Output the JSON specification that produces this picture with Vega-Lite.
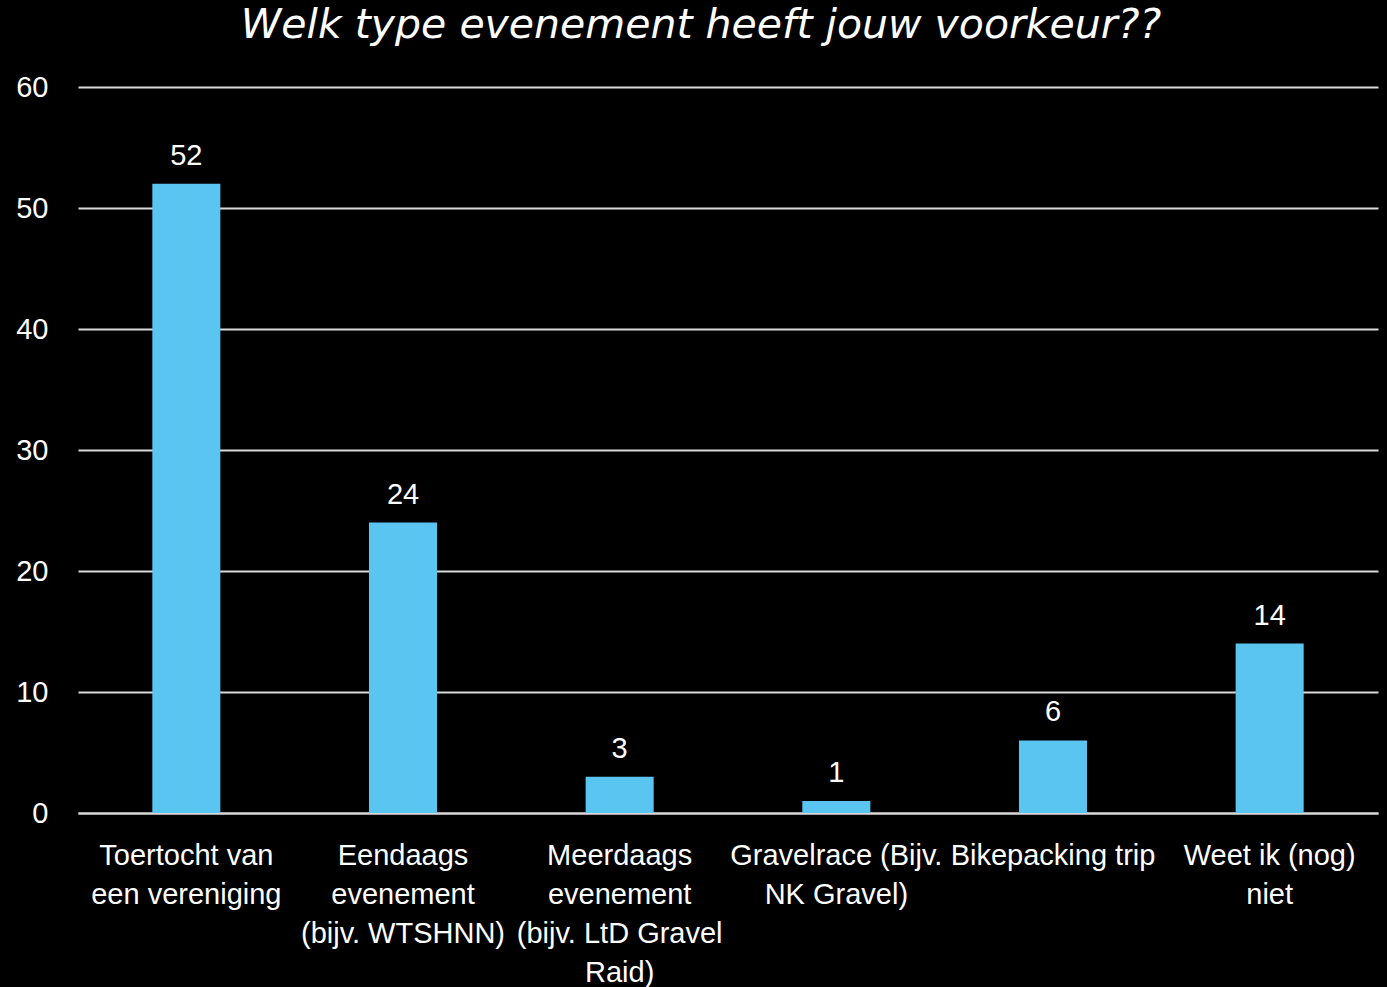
{
  "$schema": "https://vega.github.io/schema/vega-lite/v6.json",
  "width": 1300,
  "height": 726,
  "autosize": {"type": "none"},
  "padding": {"left": 78, "top": 87, "right": 9, "bottom": 174},
  "background": "#000000",
  "title": {
    "text": "Welk type evenement heeft jouw voorkeur??",
    "font": "DejaVu Sans",
    "fontStyle": "italic",
    "fontWeight": "normal",
    "fontSize": 41,
    "color": "#FFFFFF",
    "anchor": "middle",
    "dx": -27,
    "offset": 26
  },
  "data": {
    "values": [
      {"cat": "Toertocht van|een vereniging", "n": 52},
      {"cat": "Eendaags|evenement|(bijv. WTSHNN)", "n": 24},
      {"cat": "Meerdaags|evenement|(bijv. LtD Gravel|Raid)", "n": 3},
      {"cat": "Gravelrace (Bijv.|NK Gravel)", "n": 1},
      {"cat": "Bikepacking trip", "n": 6},
      {"cat": "Weet ik (nog)|niet", "n": 14}
    ]
  },
  "config": {
    "view": {"stroke": null},
    "font": "Liberation Sans"
  },
  "encoding": {
    "x": {
      "field": "cat",
      "type": "nominal",
      "sort": null,
      "scale": {"paddingInner": 0.686, "paddingOuter": 0.343},
      "axis": {
        "title": null,
        "labelAngle": 0,
        "labelExpr": "split(datum.label, '|')",
        "labelFont": "Liberation Sans",
        "labelFontSize": 29,
        "labelLineHeight": 39,
        "labelColor": "#FFFFFF",
        "labelPadding": 28,
        "labelLimit": 0,
        "labelBaseline": "top",
        "ticks": false,
        "domainColor": "#D9D9D9",
        "domainWidth": 2
      }
    },
    "y": {
      "field": "n",
      "type": "quantitative",
      "scale": {"domain": [0, 60]},
      "axis": {
        "title": null,
        "values": [0, 10, 20, 30, 40, 50, 60],
        "domain": false,
        "ticks": false,
        "labelPadding": 30,
        "labelFont": "Liberation Sans",
        "labelFontSize": 29,
        "labelColor": "#FFFFFF",
        "gridColor": "#D9D9D9",
        "gridWidth": 2
      }
    }
  },
  "layer": [
    {"mark": {"type": "bar", "color": "#5BC5F2"}},
    {
      "mark": {
        "type": "text",
        "color": "#FFFFFF",
        "fontSize": 29,
        "baseline": "bottom",
        "dy": -13,
        "font": "Liberation Sans"
      },
      "encoding": {"text": {"field": "n", "type": "quantitative"}}
    }
  ]
}
